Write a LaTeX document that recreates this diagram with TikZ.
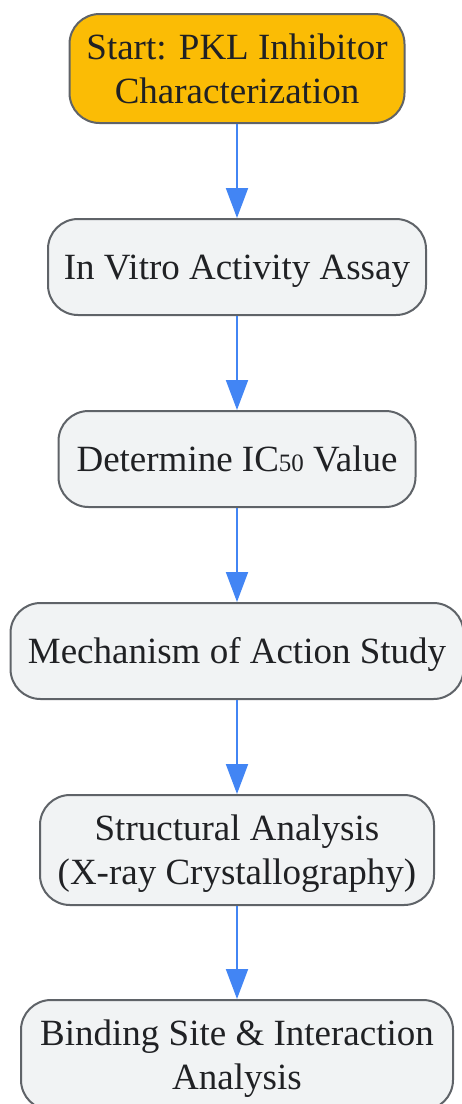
\documentclass[tikz,border=0pt]{standalone}
\usepackage{fontspec}
\setmainfont{Liberation Serif}
\usetikzlibrary{arrows.meta}
\definecolor{startfill}{HTML}{FBBC05}
\definecolor{boxfill}{HTML}{F1F3F4}
\definecolor{boxline}{HTML}{5F6368}
\definecolor{boxtext}{HTML}{202124}
\definecolor{flowblue}{HTML}{4285F4}
\newcommand{\subnum}[1]{{\fontsize{25}{25}\selectfont #1}}
\newcommand{\ls}{\rule[-9.5pt]{0pt}{44pt}}
\begin{document}
\begin{tikzpicture}[x=1pt,y=-1pt,
    stepbox/.style={draw=boxline, line width=2pt, fill=boxfill, rounded corners=30pt,
      align=center, text=boxtext, inner sep=0pt, font=\fontsize{37}{44}\selectfont},
    startbox/.style={stepbox, fill=startfill},
    flow/.style={draw=flowblue, line width=2pt, -{Triangle[length=30pt,width=22pt]}}]
    \useasboundingbox (0,0) rectangle (462,1104);

    \node[startbox, minimum width=335pt, minimum height=109pt] (start) at (237,68.5)
        {\ls Start: PKL Inhibitor\\\ls Characterization};
    \node[stepbox, minimum width=378pt, minimum height=96pt] (assay) at (237,267)
        {\ls In Vitro Activity Assay};
    \node[stepbox, minimum width=357pt, minimum height=96pt] (ic50) at (237,459)
        {\ls Determine IC\subnum{50} Value};
    \node[stepbox, minimum width=453pt, minimum height=96pt] (moa) at (237,651)
        {\ls Mechanism of Action Study};
    \node[stepbox, minimum width=394pt, minimum height=110pt] (xray) at (237,850)
        {\ls Structural Analysis\\\ls (X-ray Crystallography)};
    \node[stepbox, minimum width=432pt, minimum height=110pt] (binding) at (237,1055)
        {\ls Binding Site \& Interaction\\\ls Analysis};

    \draw[flow] (start) -- (assay);
    \draw[flow] (assay) -- (ic50);
    \draw[flow] (ic50) -- (moa);
    \draw[flow] (moa) -- (xray);
    \draw[flow] (xray) -- (binding);
\end{tikzpicture}
\end{document}
